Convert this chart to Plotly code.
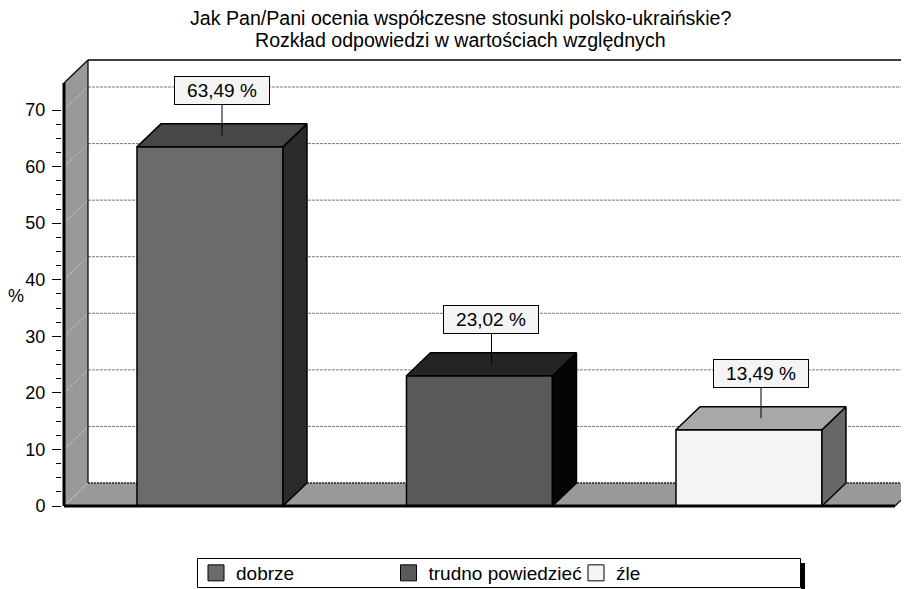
import plotly.graph_objects as go

# ---------------- data ----------------
categories = ["dobrze", "trudno powiedzieć", "źle"]
values = [63.49, 23.02, 13.49]
y_ticks = [0, 10, 20, 30, 40, 50, 60, 70]
title_lines = ["Jak Pan/Pani ocenia współczesne stosunki polsko-ukraińskie?",
               "Rozkład odpowiedzi w wartościach względnych"]
axis_title = "%"

# ---------------- style ----------------
front_colors = ["#6b6b6b", "#595959", "#f4f4f4"]
top_colors = ["#474747", "#242424", "#a8a8a8"]
side_colors = ["#2b2b2b", "#050505", "#686868"]
wall_color = "#999999"
FONT = "Liberation Sans, Arial, sans-serif"
legend_x_px = [196, 388.5, 576]

OFF = 8                     # page body margin
W, H = 909 - OFF, 589 - OFF
ml, mr, mt, mb = 62 - OFF, 0, 57 - OFF, 80
plot_w = W - ml - mr
plot_h = H - mt - mb
ppx = 269.5            # px per category unit
ppy = 5.657            # px per value unit
bar_w = 0.5417
half_span = 0.5417
x0 = -half_span
x_min = x0 - 2 / ppx
x_max = x_min + plot_w / ppx
y_min = -3 / ppy
y_max = y_min + plot_h / ppy
y_wall_top = 446 / ppy
ddx = 24 / ppx
ddy = 23 / ppy
x_right = len(categories) - 1 + half_span
y_front_top = y_wall_top - ddy

def px_to_paper_x(px):
    return (px - OFF - ml) / plot_w

def px_to_paper_y(py):
    return (H - mb - (py - OFF)) / plot_h

fig = go.Figure()

shapes = []
def path(pts):
    return "M " + " L ".join(f"{x},{y}" for x, y in pts) + " Z"

# left wall and floor
shapes.append(dict(type="path", xref="x", yref="y", layer="below",
                   path=path([(x0, 0), (x0, y_front_top), (x0 + ddx, y_wall_top), (x0 + ddx, ddy)]),
                   fillcolor=wall_color, line=dict(width=0)))
shapes.append(dict(type="path", xref="x", yref="y", layer="below",
                   path=path([(x0, 0), (x_right, 0), (x_right + ddx, ddy), (x0 + ddx, ddy)]),
                   fillcolor=wall_color, line=dict(width=0)))
# back-wall gridlines
for v in y_ticks[1:]:
    shapes.append(dict(type="line", xref="x", yref="y", layer="below",
                       x0=x0 + ddx, x1=x_max, y0=v + ddy, y1=v + ddy,
                       line=dict(color="#7a7a7a", width=1, dash="3px,1px")))
# left wall diagonals
for v in y_ticks:
    shapes.append(dict(type="line", xref="x", yref="y", layer="below",
                       x0=x0, x1=x0 + ddx, y0=v, y1=v + ddy,
                       line=dict(color="#c4c4c4", width=1, dash="3px,1px")))
# floor back edge (zero gridline)
shapes.append(dict(type="line", xref="x", yref="y", layer="below",
                   x0=x0 + ddx, x1=x_right + ddx, y0=ddy, y1=ddy,
                   line=dict(color="#222222", width=1.5, dash="2px,1px")))
# edges
edge = dict(color="black", width=1.2)
shapes.append(dict(type="line", xref="x", yref="y", layer="below",
                   x0=x0 + ddx, x1=x0 + ddx, y0=ddy, y1=y_wall_top, line=edge))
shapes.append(dict(type="line", xref="x", yref="y", layer="below",
                   x0=x0 + ddx, x1=x_max, y0=y_wall_top, y1=y_wall_top, line=dict(color="black", width=1.5)))
shapes.append(dict(type="line", xref="x", yref="y", layer="below",
                   x0=x0, x1=x0 + ddx, y0=y_front_top, y1=y_wall_top, line=edge))
shapes.append(dict(type="line", xref="x", yref="y", layer="below",
                   x0=x_right, x1=x_right + ddx, y0=0, y1=ddy, line=edge))
# thick front axis lines
shapes.append(dict(type="line", xref="x", yref="y", layer="above",
                   x0=x0, x1=x0, y0=0, y1=y_front_top, line=dict(color="black", width=3)))
shapes.append(dict(type="line", xref="x", yref="y", layer="above",
                   x0=x0, x1=x_right, y0=0, y1=0, line=dict(color="black", width=3)))
# legend drop shadow and frame
shapes.append(dict(type="rect", xref="paper", yref="paper", layer="below",
                   x0=px_to_paper_x(801), x1=px_to_paper_x(805),
                   y0=px_to_paper_y(592), y1=px_to_paper_y(563),
                   fillcolor="black", line=dict(width=0)))
shapes.append(dict(type="rect", xref="paper", yref="paper", layer="below",
                   x0=px_to_paper_x(197.5), x1=px_to_paper_x(800.5),
                   y0=px_to_paper_y(587.5), y1=px_to_paper_y(558.5),
                   fillcolor="white", line=dict(color="black", width=1)))

# bars: front faces
for i, (cat, v) in enumerate(zip(categories, values)):
    fig.add_trace(go.Bar(x=[i], y=[v], width=bar_w, name=cat, showlegend=False,
                         marker=dict(color=front_colors[i], line=dict(color="black", width=1.5)),
                         hoverinfo="skip"))

# bars: top and side faces
for i, v in enumerate(values):
    xl, xr = i - bar_w / 2, i + bar_w / 2
    top = [(xl, v), (xr, v), (xr + ddx, v + ddy), (xl + ddx, v + ddy), (xl, v)]
    side = [(xr, 0), (xr, v), (xr + ddx, v + ddy), (xr + ddx, ddy), (xr, 0)]
    for pts, col in ((side, side_colors[i]), (top, top_colors[i])):
        fig.add_trace(go.Scatter(x=[p[0] for p in pts], y=[p[1] for p in pts],
                                 mode="lines", fill="toself", fillcolor=col,
                                 line=dict(color="black", width=1.5),
                                 showlegend=False, hoverinfo="skip"))

# legend entries (square swatches), one legend per entry
legend_layouts = {}
for i, cat in enumerate(categories):
    lname = "legend" if i == 0 else f"legend{i + 1}"
    fig.add_trace(go.Scatter(x=[None], y=[None], mode="markers", name=cat,
                             marker=dict(symbol="square", size=16, color=front_colors[i],
                                         line=dict(color="black", width=1)),
                             showlegend=True, hoverinfo="skip", legend=lname))
    legend_layouts[lname] = dict(orientation="h", x=px_to_paper_x(legend_x_px[i]), xanchor="left",
                                 y=px_to_paper_y(573), yanchor="middle",
                                 borderwidth=0, bgcolor="rgba(0,0,0,0)", itemsizing="trace",
                                 font=dict(family=FONT, size=19, color="black"))

annotations = []
for i, v in enumerate(values):
    annotations.append(dict(x=i + ddx / 2, y=v + ddy / 2, xref="x", yref="y",
                            text=f"{v:.2f}".replace(".", ",") + " %",
                            showarrow=True, arrowhead=0, arrowwidth=1, arrowcolor="black",
                            ax=0, ay=-45, bgcolor="#f4f4f4", bordercolor="black",
                            borderwidth=1, borderpad=3, width=88,
                            font=dict(family=FONT, size=19, color="black")))
annotations.append(dict(text=axis_title, xref="paper", yref="paper",
                        x=px_to_paper_x(16), y=px_to_paper_y(296),
                        showarrow=False, xanchor="center", yanchor="middle",
                        font=dict(family=FONT, size=18, color="black")))
for line, ty in zip(title_lines, (18.5, 40.5)):
    annotations.append(dict(text=line, xref="paper", yref="paper",
                            x=px_to_paper_x(460.5), y=px_to_paper_y(ty),
                            showarrow=False, xanchor="center", yanchor="middle",
                            font=dict(family=FONT, size=19.6, color="black")))

fig.update_layout(
    width=W, height=H,
    margin=dict(l=ml, r=mr, t=mt, b=mb, autoexpand=False),
    paper_bgcolor="white", plot_bgcolor="white",
    barmode="overlay",
    xaxis=dict(range=[x_min, x_max], visible=False, fixedrange=True, automargin=False),
    yaxis=dict(range=[y_min, y_max], tickvals=y_ticks, ticks="outside", ticklen=9,
               tickcolor="black", tickwidth=1, showgrid=False, zeroline=False,
               showline=False, tickfont=dict(family=FONT, size=18, color="black"),
               ticklabelstandoff=3, automargin=False,
               minor=dict(tickvals=[t + d for t in y_ticks[:-1] for d in (2.5, 5, 7.5)],
                          ticks="outside", ticklen=5, tickcolor="black", tickwidth=1,
                          showgrid=False)),
    shapes=shapes,
    annotations=annotations,
    showlegend=True,
    **legend_layouts,
)

fig.write_html("out.html")
